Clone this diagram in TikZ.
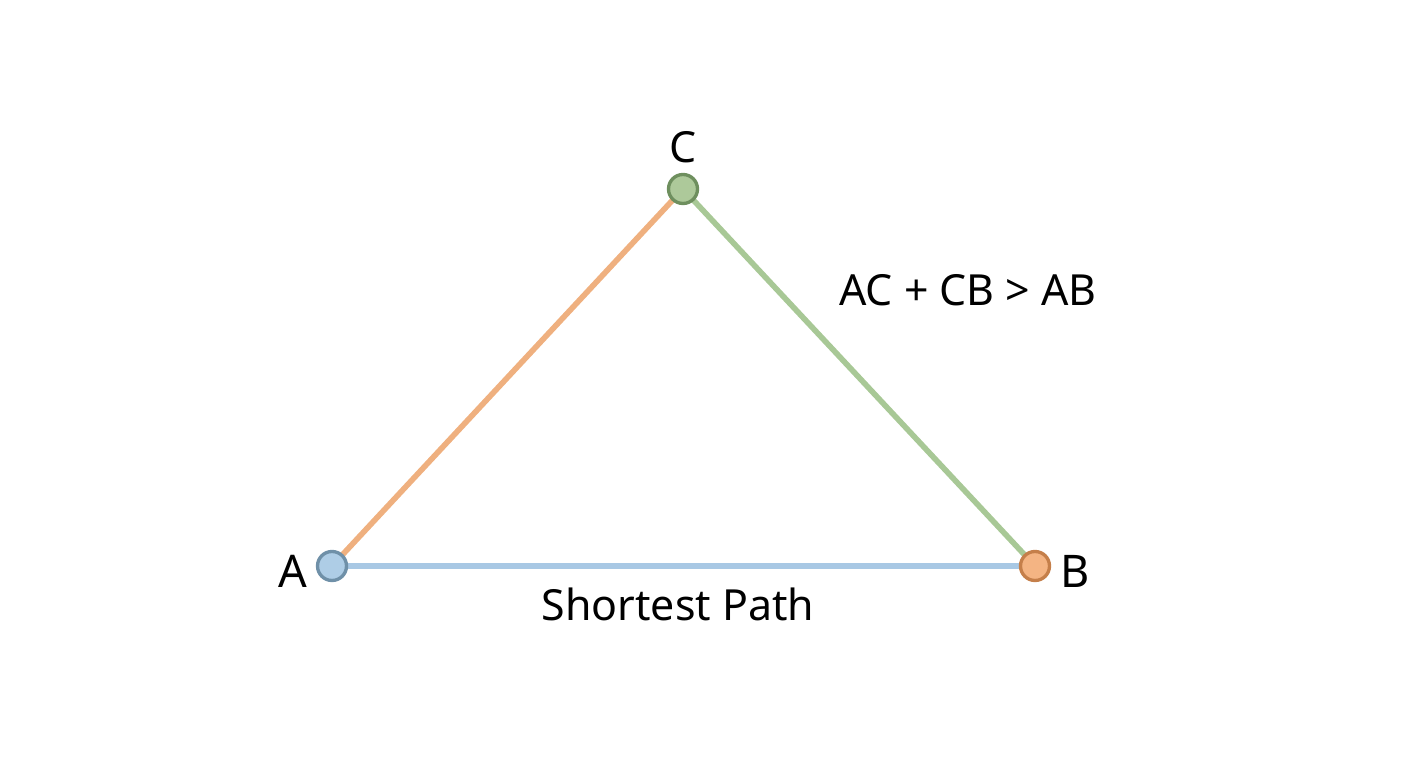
\documentclass[tikz,border=0pt]{standalone}
\usepackage{fontspec}
\setmainfont{Noto Sans}
\definecolor{lineAC}{HTML}{EFB07F}
\definecolor{lineCB}{HTML}{A8C896}
\definecolor{lineAB}{HTML}{A8C8E4}
\definecolor{fillA}{HTML}{AECDE6}
\definecolor{drawA}{HTML}{6F90A8}
\definecolor{fillB}{HTML}{F4B483}
\definecolor{drawB}{HTML}{C57F4A}
\definecolor{fillC}{HTML}{ADC99A}
\definecolor{drawC}{HTML}{6E8F5E}
\tikzset{
  vertex/.style={circle,inner sep=0pt,minimum size=0.29cm,line width=0.95pt},
  edge/.style={line width=1.6pt},
  lbl/.style={font=\fontsize{12.2pt}{14pt}\selectfont,text=black}
}
\begin{document}
\begin{tikzpicture}
\useasboundingbox (0,0) rectangle (14.08,7.68);
\coordinate (a) at (3.32,2.02);
\coordinate (c) at (6.83,5.79);
\coordinate (b) at (10.35,2.02);
\draw[edge,lineAC] (a) -- (c);
\draw[edge,lineCB] (c) -- (b);
\draw[edge,lineAB] (a) -- (b);
\node[vertex,draw=drawA,fill=fillA] (A) at (a) {};
\node[vertex,draw=drawC,fill=fillC] (C) at (c) {};
\node[vertex,draw=drawB,fill=fillB] (B) at (b) {};

\node[lbl] (labelA) at (2.93,1.97) {\fontsize{12.8pt}{15pt}\selectfont A};
\node[lbl] (labelB) at (10.75,1.97) {\fontsize{12.8pt}{15pt}\selectfont B};
\node[lbl] (labelC) at (6.83,6.21) {C};
\node[lbl] (ineq) at (9.68,4.78) {AC + CB > AB};
\node[lbl] (short) at (6.78,1.64) {Shortest Path};
\end{tikzpicture}
\end{document}
